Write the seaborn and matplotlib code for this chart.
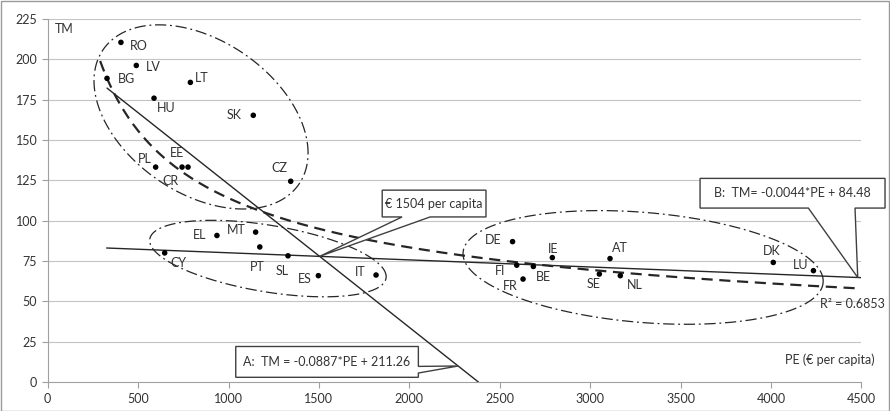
import numpy as np
import pandas as pd
import matplotlib
matplotlib.use("Agg")
import matplotlib.pyplot as plt
from matplotlib.patches import Polygon, Rectangle
import seaborn as sns

# ---------------- data ----------------
countries = ["RO", "LV", "BG", "LT", "HU", "SK", "EE", "CR", "PL", "CZ",
             "EL", "MT", "PT", "CY", "SL", "ES", "IT",
             "DE", "IE", "AT", "DK", "LU", "FI", "BE", "FR", "SE", "NL"]
pe = [405, 490, 328, 789, 588, 1137, 776, 743, 597, 1344,
      936, 1150, 1173, 647, 1329, 1497, 1816,
      2571, 2791, 3110, 4013, 4235, 2594, 2686, 2629, 3051, 3167]
tm = [210.5, 196.2, 188.2, 185.7, 175.9, 165.3, 133.2, 133.2, 133.2, 124.4,
      90.8, 92.9, 83.7, 80.0, 78.2, 65.9, 66.3,
      87.0, 77.1, 76.5, 74.1, 69.0, 72.4, 71.6, 63.8, 66.9, 65.9]

# regression lines shown in the chart
lineA = (-0.0887, 211.26)
lineB = (-0.0044, 84.48)
r2_text = "R² = 0.6853"
x_ticks = [0, 500, 1000, 1500, 2000, 2500, 3000, 3500, 4000, 4500]
y_ticks = [0, 25, 50, 75, 100, 125, 150, 175, 200, 225]

df = pd.DataFrame({"country": countries, "PE": pe, "TM": tm})

# ---------------- style ----------------
sns.set_style("white")
plt.rcParams["font.family"] = ["Lato", "DejaVu Sans"]
FS = 9
TXT = "#333333"
LINE = "#262626"

fig = plt.figure(figsize=(8.9, 4.11), dpi=100)
ax = fig.add_axes([0.0536, 0.0706, 0.9142, 0.8832])
ax.set_xlim(0, 4500)
ax.set_ylim(0, 225)
ax.set_xticks(x_ticks)
ax.set_yticks(y_ticks)
ax.tick_params(axis="both", labelsize=FS, colors="#a0a0a0", labelcolor=TXT,
               length=4, width=0.8, direction="out", left=True, bottom=True)
ax.tick_params(axis="x", pad=4)
for y in y_ticks[1:]:
    ax.axhline(y, color="#c4c4c4", lw=0.8, zorder=0)
for s in ["top", "right"]:
    ax.spines[s].set_visible(False)
for s in ["left", "bottom"]:
    ax.spines[s].set_color("#a0a0a0")
    ax.spines[s].set_linewidth(0.8)

# ---------------- lines ----------------
xa = np.linspace(min(pe), -lineA[1] / lineA[0], 50)
sns.lineplot(x=xa, y=lineA[0] * xa + lineA[1], ax=ax, color=LINE, lw=1.0, zorder=3)
xb = np.linspace(min(pe) - 2, 4500, 50)
sns.lineplot(x=xb, y=lineB[0] * xb + lineB[1], ax=ax, color=LINE, lw=1.0, zorder=3)

# power trend fitted on all countries
b, loga = np.polyfit(np.log(df["PE"]), np.log(df["TM"]), 1)
xt = np.linspace(290, 4500, 300)
ax.plot(xt, np.exp(loga) * xt ** b, color=LINE, lw=1.6, ls=(0, (5, 3)), zorder=3)

# ---------------- cluster ellipses ----------------
ellipses = [
    ((848, 164.3), (592, -22.4), (0, 52.5)),
    ((1218, 76.5), (654, -11.2), (0, 20.9)),
    ((3293, 71.0), (996, -8.5), (0, 34.2)),
]
t = np.linspace(0, 2 * np.pi, 400)
for c, u, v in ellipses:
    ex = c[0] + u[0] * np.cos(t) + v[0] * np.sin(t)
    ey = c[1] + u[1] * np.cos(t) + v[1] * np.sin(t)
    ax.plot(ex, ey, color=LINE, lw=0.9, ls=(0, (9, 3, 1.5, 3)), zorder=2)

# ---------------- points ----------------
sns.scatterplot(data=df, x="PE", y="TM", ax=ax, color="black", s=16,
                edgecolor="none", zorder=5, legend=False)
ax.set_xlabel("")
ax.set_ylabel("")

label_off = {  # pixel offsets (right, down)
    "RO": (18, 3.3), "LV": (17, 2), "BG": (19, 1), "LT": (11.4, -4),
    "HU": (12, 10), "SK": (-19, 0), "EE": (-11, -14), "CR": (-12, 13.6),
    "PL": (-10.7, -8), "CZ": (-11.7, -13), "EL": (-17.7, 0), "MT": (-19, -2.6),
    "PT": (-3, 20), "CY": (13.6, 10.4), "SL": (-6.3, 15), "ES": (-13.3, 3.4),
    "IT": (-16, -3.4), "DE": (-19.4, -1.3), "IE": (1, -8.3), "AT": (10, -11),
    "DK": (-1.6, -11.7), "LU": (-13.3, -5.6), "FI": (-16.7, 5.6), "BE": (10, 11),
    "FR": (-13, 6.6), "SE": (-6, 10), "NL": (14.7, 9),
}
for name, x, y in zip(countries, pe, tm):
    dx, dy = label_off[name]
    ax.annotate(name, (x, y), xytext=(dx * 0.72, -dy * 0.72),
                textcoords="offset points", ha="center", va="center",
                fontsize=FS, color=TXT, zorder=6)

# ---------------- callouts ----------------
def callout(box, base, tip, text):
    (x0, y0, x1, y1) = box
    side, p, q = base
    if side == "bottom":
        pts = [(x0, y0), (p, y0), tip, (q, y0), (x1, y0), (x1, y1), (x0, y1)]
    else:  # right
        pts = [(x0, y0), (x1, y0), (x1, p), tip, (x1, q), (x1, y1), (x0, y1)]
    poly = Polygon(pts, closed=True, facecolor="white", edgecolor="#404040",
                   lw=1.0, zorder=7, clip_on=False)
    ax.add_patch(poly)
    ax.text((x0 + x1) / 2, (y0 + y1) / 2, text, ha="center", va="center",
            fontsize=FS, color=TXT, zorder=8, clip_on=False)

xi = (lineB[1] - lineA[1]) / (lineA[0] - lineB[0])
yi = lineA[0] * xi + lineA[1]
callout((1850, 102.3, 2424, 118.9), ("bottom", 1960, 2115), (xi, yi),
        f"€ {xi:.0f} per capita")
callout((1040, 2.9, 2050, 22.0), ("right", 5.55, 9.66),
        (2270, lineA[0] * 2270 + lineA[1]),
        f"A:  TM = {lineA[0]}*PE + {lineA[1]}")
callout((3608, 107.8, 4631, 126.2), ("bottom", 4207, 4465),
        (4480, lineB[0] * 4480 + lineB[1]),
        f"B:  TM= {lineB[0]}*PE + {lineB[1]}")

# ---------------- axis texts ----------------
ax.text(40, 218.7, "TM", fontsize=FS, color=TXT, ha="left", va="center")
ax.text(4576, 13.9, "PE (€ per capita)", fontsize=FS, color=TXT,
        ha="right", va="center", clip_on=False)
ax.text(4273, 48.5, r2_text, fontsize=FS, color=TXT, ha="left", va="center",
        clip_on=False)

fig.add_artist(Rectangle((0.001, 0.001), 0.998, 0.997, transform=fig.transFigure,
                         fill=False, edgecolor="#9a9a9a", lw=1.0))

fig.savefig("out.png", dpi=100)
